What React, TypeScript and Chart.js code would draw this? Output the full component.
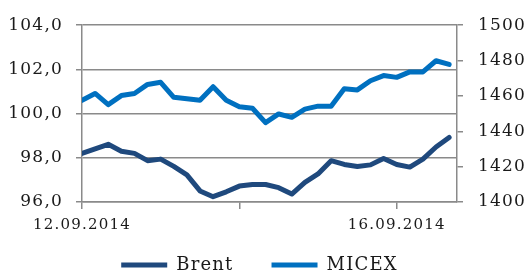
import { useEffect, useRef } from 'react';
import { Chart, registerables } from 'chart.js';
Chart.register(...registerables);

const tickPositions = [0, 12, 24];
const tickLabels = ['12.09.2014', '', '16.09.2014'];
const seriesNames = ['Brent', 'MICEX'];
const brent = [
  98.2, 98.4, 98.61, 98.3, 98.2, 97.87, 97.94, 97.61, 97.23, 96.5,
  96.24, 96.46, 96.72, 96.79, 96.79, 96.65, 96.36, 96.89, 97.27, 97.87,
  97.7, 97.61, 97.68, 97.97, 97.7, 97.58, 97.94, 98.49, 98.92,
];
const micex = [
  1457.5, 1461.4, 1455.1, 1460.2, 1461.4, 1466.5, 1467.7, 1459.2, 1458.4, 1457.5,
  1465.2, 1457.5, 1453.9, 1453.0, 1444.9, 1449.8, 1447.9, 1452.5, 1454.2, 1454.2,
  1464.1, 1463.4, 1468.6, 1471.5, 1470.5, 1473.6, 1473.6, 1479.9, 1477.8,
];

const GRID = '#8a8a8a';
const TEXT = '#1a1a1a';
const FONT = 'DejaVu Serif';
const LEGEND_PAD = 38;

export default function App() {
  const ref = useRef<HTMLCanvasElement>(null);
  useEffect(() => {
    const spacing = {
      id: 'spacing',
      beforeLayout(c: any) { c.ctx.letterSpacing = '1.2px'; },
      beforeDraw(c: any) { c.ctx.letterSpacing = '1.2px'; },
    };
    const legendPlace = {
      id: 'legendPlace',
      afterLayout(c: any) {
        const l = c.legend;
        if (!l) return;
        const top = 256 - LEGEND_PAD;
        l.top = top;
        l.bottom = c.height;
        l.height = c.height - top;
        l.left -= 5.5;
        l.right -= 5.5;
      },
    };
    const chart = new Chart(ref.current!, {
      type: 'line',
      data: {
        datasets: [
          {
            label: seriesNames[0],
            data: brent.map((y, i) => ({ x: i, y })),
            borderColor: '#1F497D',
            backgroundColor: '#1F497D',
            borderWidth: 5,
            pointRadius: 0,
            tension: 0,
            borderCapStyle: 'round',
            borderJoinStyle: 'round',
            yAxisID: 'y',
          },
          {
            label: seriesNames[1],
            data: micex.map((y, i) => ({ x: i, y })),
            borderColor: '#0070C0',
            backgroundColor: '#0070C0',
            borderWidth: 5,
            pointRadius: 0,
            tension: 0,
            borderCapStyle: 'round',
            borderJoinStyle: 'round',
            yAxisID: 'y1',
          },
        ],
      },
      options: {
        animation: false,
        responsive: true,
        maintainAspectRatio: false,
        layout: { padding: { top: 16, bottom: 0, left: 0, right: 0 } },
        plugins: {
          tooltip: { enabled: false },
          legend: {
            position: 'bottom',
            maxHeight: 20,
            labels: {
              usePointStyle: true,
              pointStyle: 'line',
              pointStyleWidth: 46,
              padding: LEGEND_PAD,
              color: TEXT,
              font: { family: FONT, size: 18 },
            },
          },
        },
        scales: {
          x: {
            type: 'linear',
            min: 0,
            max: 28.6,
            afterBuildTicks: (s: any) => {
              s.ticks = tickPositions.map((v) => ({ value: v }));
            },
            afterFit: (s: any) => { s.height = 53; },
            ticks: {
              autoSkip: false,
              maxRotation: 0,
              padding: 7,
              color: TEXT,
              font: { family: FONT, size: 15 },
              callback: (v: any) => {
                const idx = tickPositions.indexOf(Number(v));
                return idx >= 0 ? tickLabels[idx] : '';
              },
            },
            grid: { drawOnChartArea: false, tickLength: 7, color: GRID, lineWidth: 1.5 },
            border: { color: GRID, width: 1.5 },
          },
          y: {
            position: 'left',
            min: 96,
            max: 104,
            afterFit: (s: any) => { s.width = 82; },
            ticks: {
              stepSize: 2,
              padding: 13,
              color: TEXT,
              font: { family: FONT, size: 17 },
              callback: (v: any) => Number(v).toFixed(1).replace('.', ','),
            },
            grid: { color: GRID, lineWidth: 1.5, tickLength: 6 },
            border: { color: GRID, width: 1.5 },
          },
          y1: {
            position: 'right',
            min: 1400,
            max: 1500,
            afterFit: (s: any) => { s.width = 73; },
            ticks: {
              stepSize: 20,
              padding: 15,
              color: TEXT,
              font: { family: FONT, size: 17 },
              callback: (v: any) => String(v),
            },
            grid: { drawOnChartArea: false, color: GRID, lineWidth: 1.5, tickLength: 6 },
            border: { color: GRID, width: 1.5 },
          },
        },
      },
      plugins: [spacing, legendPlace],
    } as any);
    return () => chart.destroy();
  }, []);
  return (
    <div style={{ position: 'fixed', left: 0, top: 0, width: 530, height: 275 }}>
      <canvas ref={ref} />
    </div>
  );
}
